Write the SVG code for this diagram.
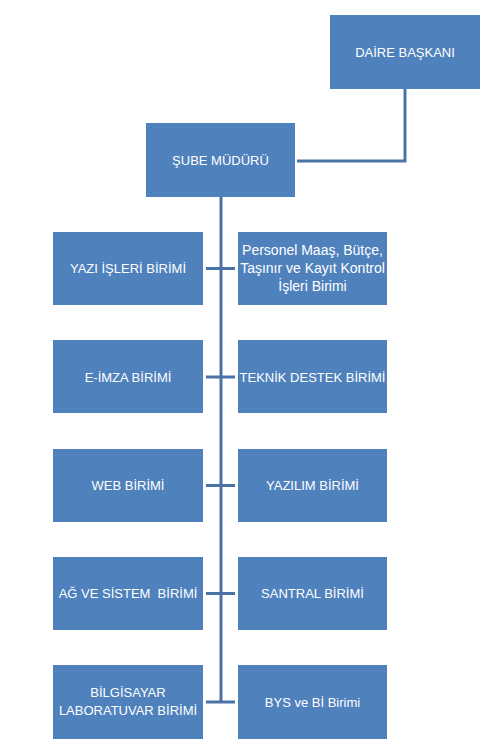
<svg xmlns="http://www.w3.org/2000/svg" width="491" height="752" viewBox="0 0 491 752">
<style>
.box{fill:#4F81BD;}
.t{font-family:"Liberation Sans",Arial,sans-serif;font-size:13px;fill:#FFFFFF;text-anchor:middle;white-space:pre;}
.c{fill:none;stroke:#4A72A6;stroke-width:3;}
</style>
<rect width="491" height="752" fill="#FFFFFF"/>
<g id="connectors">
<polyline class="c" points="405,89 405,161 297,161"/>
<line class="c" x1="221" y1="197" x2="221" y2="703"/>
<line class="c" x1="206" y1="268.5" x2="235" y2="268.5"/>
<line class="c" x1="206" y1="377" x2="235" y2="377"/>
<line class="c" x1="206" y1="485.5" x2="235" y2="485.5"/>
<line class="c" x1="206" y1="593.5" x2="235" y2="593.5"/>
<line class="c" x1="206" y1="702" x2="235" y2="702"/>
</g>
<g id="daire-baskani"><rect class="box" x="330" y="15" width="150" height="74"/><text class="t" x="405" y="56.5">DAİRE BAŞKANI</text></g>
<g id="sube-muduru"><rect class="box" x="146" y="123" width="149" height="74"/><text class="t" x="220.5" y="164.5">ŞUBE MÜDÜRÜ</text></g>
<g id="yazi-isleri"><rect class="box" x="53" y="232" width="150" height="73"/><text class="t" x="128" y="273">YAZI İŞLERİ BİRİMİ</text></g>
<g id="personel"><rect class="box" x="238" y="232" width="149" height="73"/><text class="t" x="312.5" style="font-size:14px"><tspan x="312.5" y="255">Personel Maaş, Bütçe,</tspan><tspan x="312.5" y="273">Taşınır ve Kayıt Kontrol</tspan><tspan x="312.5" y="291">İşleri Birimi</tspan></text></g>
<g id="e-imza"><rect class="box" x="53" y="340" width="150" height="73"/><text class="t" x="128" y="381.5">E-İMZA BİRİMİ</text></g>
<g id="teknik-destek"><rect class="box" x="238" y="340" width="149" height="73"/><text class="t" x="312.5" y="381.5">TEKNİK DESTEK BİRİMİ</text></g>
<g id="web"><rect class="box" x="53" y="449" width="150" height="73"/><text class="t" x="128" y="490">WEB BİRİMİ</text></g>
<g id="yazilim"><rect class="box" x="238" y="449" width="149" height="73"/><text class="t" x="312.5" y="490">YAZILIM BİRİMİ</text></g>
<g id="ag-sistem"><rect class="box" x="53" y="557" width="150" height="73"/><text class="t" x="128" y="598">AĞ VE SİSTEM  BİRİMİ</text></g>
<g id="santral"><rect class="box" x="238" y="557" width="149" height="73"/><text class="t" x="312.5" y="598">SANTRAL BİRİMİ</text></g>
<g id="bilgisayar-lab"><rect class="box" x="53" y="665" width="150" height="74"/><text class="t"><tspan x="128" y="697">BİLGİSAYAR</tspan><tspan x="128" y="715">LABORATUVAR BİRİMİ</tspan></text></g>
<g id="bys-bi"><rect class="box" x="238" y="665" width="149" height="74"/><text class="t" x="312.5" y="706.5">BYS ve Bİ Birimi</text></g>
</svg>
